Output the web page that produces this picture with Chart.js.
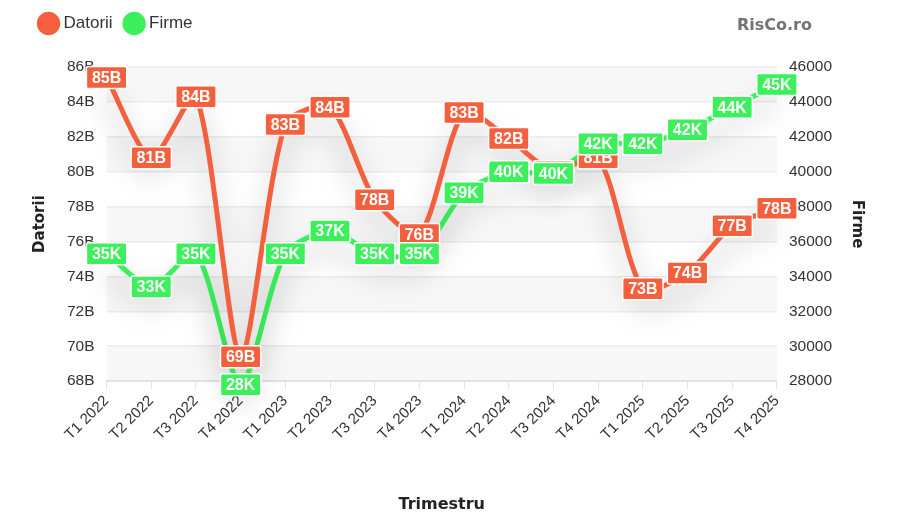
<!DOCTYPE html>
<html>
<head>
<meta charset="utf-8">
<script src="https://cdn.jsdelivr.net/npm/chart.js@4/dist/chart.umd.min.js"></script>
<style>
html,body{margin:0;padding:0;background:#fff;}
#wrap{width:900px;height:514px;position:relative;}
</style>
</head>
<body>
<div id="wrap"><canvas id="c"></canvas></div>
<script>
const categories = ['T1 2022','T2 2022','T3 2022','T4 2022','T1 2023','T2 2023','T3 2023','T4 2023','T1 2024','T2 2024','T3 2024','T4 2024','T1 2025','T2 2025','T3 2025','T4 2025'];
const datorii = [85.4, 80.8, 84.3, 69.4, 82.7, 83.7, 78.4, 76.4, 83.4, 81.9, 80.0, 80.8, 73.3, 74.2, 76.9, 77.9];
const firme = [35300, 33400, 35300, 27800, 35300, 36600, 35300, 35300, 38800, 40000, 39900, 41600, 41600, 42400, 43700, 45000];
const leftTicks = {min: 68, max: 86, step: 2};
const rightTicks = {min: 28000, max: 46000, step: 2000};

const RED = '#f4603e';
const GREEN = '#3bf05b';
const FONT = '"Liberation Sans", Arial, sans-serif';
const TFONT = '"DejaVu Sans", Verdana, sans-serif';

const legendGap = {
  id: 'legendGap',
  beforeInit(chart) {
    const origFit = chart.legend.fit;
    chart.legend.fit = function () {
      origFit.bind(chart.legend)();
      this.height += 25;
    };
  }
};

const bandPlugin = {
  id: 'bands',
  beforeDraw(chart) {
    const {ctx, chartArea, scales} = chart;
    const y = scales.y;
    ctx.save();
    ctx.fillStyle = '#f7f7f7';
    for (let v = leftTicks.max; v > leftTicks.min; v -= leftTicks.step) {
      const idx = Math.round((leftTicks.max - v) / leftTicks.step);
      if (idx % 2 === 0) {
        const y1 = y.getPixelForValue(v);
        const y2 = y.getPixelForValue(v - leftTicks.step);
        ctx.fillRect(chartArea.left, y1, chartArea.right - chartArea.left, y2 - y1);
      }
    }
    ctx.restore();
  }
};

const shadowPlugin = {
  id: 'lineShadow',
  beforeDatasetDraw(chart) {
    const ctx = chart.ctx;
    ctx.save();
    ctx.shadowColor = 'rgba(0,0,0,0.36)';
    ctx.shadowBlur = 28;
    ctx.shadowOffsetY = 16;
  },
  afterDatasetDraw(chart) {
    chart.ctx.restore();
  }
};

function roundRect(ctx, x, y, w, h, r) {
  ctx.beginPath();
  ctx.moveTo(x + r, y);
  ctx.lineTo(x + w - r, y);
  ctx.quadraticCurveTo(x + w, y, x + w, y + r);
  ctx.lineTo(x + w, y + h - r);
  ctx.quadraticCurveTo(x + w, y + h, x + w - r, y + h);
  ctx.lineTo(x + r, y + h);
  ctx.quadraticCurveTo(x, y + h, x, y + h - r);
  ctx.lineTo(x, y + r);
  ctx.quadraticCurveTo(x, y, x + r, y);
  ctx.closePath();
}

const labelPlugin = {
  id: 'boxLabels',
  afterDatasetsDraw(chart) {
    const ctx = chart.ctx;
    ctx.save();
    ctx.font = 'bold 16px ' + FONT;
    ctx.textAlign = 'center';
    ctx.textBaseline = 'middle';
    chart.data.datasets.forEach((ds, di) => {
      const meta = chart.getDatasetMeta(di);
      meta.data.forEach((pt, i) => {
        const v = ds.data[i];
        const txt = ds.fmt(v);
        const w = ctx.measureText(txt).width + 11;
        const h = 22;
        const x = pt.x - w / 2, y = pt.y - h / 2;
        roundRect(ctx, x, y, w, h, 2);
        ctx.fillStyle = ds.borderColor;
        ctx.fill();
        ctx.lineWidth = 1.5;
        ctx.strokeStyle = '#ffffff';
        ctx.stroke();
        ctx.fillStyle = '#ffffff';
        ctx.fillText(txt, pt.x, pt.y + 1);
      });
    });
    ctx.restore();
  }
};

const brandPlugin = {
  id: 'brand',
  afterDraw(chart) {
    const ctx = chart.ctx;
    ctx.save();
    ctx.font = 'bold 16px ' + TFONT;
    ctx.fillStyle = '#737373';
    ctx.textAlign = 'right';
    ctx.textBaseline = 'middle';
    ctx.fillText('RisCo.ro', 812, 26);
    ctx.restore();
  }
};

new Chart(document.getElementById('c'), {
  type: 'line',
  data: {
    labels: categories,
    datasets: [
      {
        label: 'Datorii',
        data: datorii,
        yAxisID: 'y',
        borderColor: RED,
        backgroundColor: RED,
        borderWidth: 5,
        pointRadius: 0,
        tension: 0.25,
        fmt: v => Math.round(v) + 'B'
      },
      {
        label: 'Firme',
        data: firme,
        yAxisID: 'y1',
        borderColor: GREEN,
        backgroundColor: GREEN,
        borderWidth: 5,
        pointRadius: 0,
        tension: 0.25,
        fmt: v => Math.round(v / 1000) + 'K'
      }
    ]
  },
  options: {
    responsive: true,
    maintainAspectRatio: false,
    animation: false,
    clip: false,
    layout: {padding: {left: 27, right: 24, top: 0, bottom: 0}},
    plugins: {
      legend: {
        position: 'top',
        align: 'start',
        labels: {
          usePointStyle: true,
          pointStyle: 'circle',
          boxWidth: 13,
          boxHeight: 13,
          padding: 15,
          color: '#333',
          font: {size: 17, family: FONT}
        }
      },
      tooltip: {enabled: false}
    },
    scales: {
      x: {
        grid: {drawOnChartArea: false, drawTicks: true, tickLength: 8, color: '#e2e2e2'},
        border: {color: '#e2e2e2', width: 2},
        ticks: {
          maxRotation: 45, minRotation: 45,
          color: '#333',
          font: {size: 15, family: FONT}
        },
        title: {
          display: true, text: 'Trimestru', color: '#222',
          font: {size: 16, weight: 'bold', family: TFONT},
          padding: {top: 48, bottom: 0}
        }
      },
      y: {
        position: 'left',
        min: leftTicks.min, max: leftTicks.max,
        ticks: {
          stepSize: leftTicks.step,
          color: '#333',
          padding: 12,
          font: {size: 15.5, family: FONT},
          callback: v => v + 'B'
        },
        grid: {color: '#ebebeb', lineWidth: 1.5, drawTicks: false},
        border: {display: false},
        title: {
          display: true, text: 'Datorii', color: '#222',
          font: {size: 15, weight: 'bold', family: TFONT},
          padding: {bottom: 6}
        }
      },
      y1: {
        position: 'right',
        min: rightTicks.min, max: rightTicks.max,
        ticks: {
          stepSize: rightTicks.step,
          color: '#333',
          padding: 12,
          font: {size: 15.5, family: FONT},
          callback: v => String(v)
        },
        grid: {drawOnChartArea: false, drawTicks: false},
        border: {display: false},
        title: {
          display: true, text: 'Firme', color: '#222',
          font: {size: 15, weight: 'bold', family: TFONT},
          padding: {top: 10}
        }
      }
    }
  },
  plugins: [legendGap, bandPlugin, shadowPlugin, labelPlugin, brandPlugin]
});
</script>
</body>
</html>
